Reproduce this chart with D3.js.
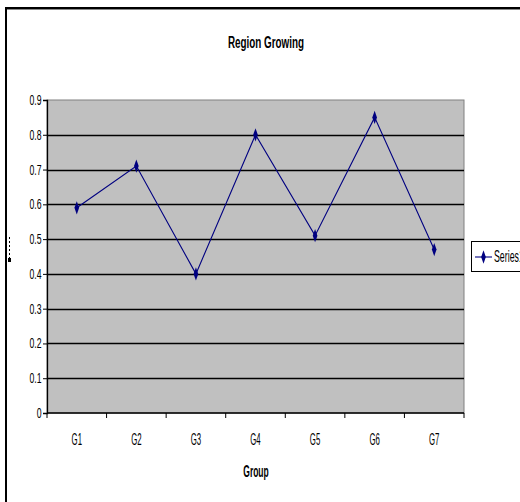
<!DOCTYPE html>
<html>
<head>
<meta charset="utf-8">
<script src="https://cdn.jsdelivr.net/npm/d3@7"></script>
<style>
  html, body { margin: 0; padding: 0; background: #fff; }
  svg { display: block; }
  text { font-family: "Liberation Sans", Arial, sans-serif; fill: #000; }
</style>
</head>
<body>
<svg id="chart" width="520" height="502"></svg>
<script>
// Series data
const categories = ["G1", "G2", "G3", "G4", "G5", "G6", "G7"];
const series1 = [0.59, 0.71, 0.40, 0.80, 0.51, 0.85, 0.47];
const yTicks = [0, 0.1, 0.2, 0.3, 0.4, 0.5, 0.6, 0.7, 0.8, 0.9];
const seriesName = "Series1";
const chartTitle = "Region Growing";
const xTitle = "Group";

const svg = d3.select("#chart");
const plot = { left: 47, right: 464, top: 100, bottom: 413 };

// Condensed text: draw at a size and squeeze horizontally
function narrowText(parent, x, y, str, size, sx, anchor, bold) {
  const g = parent.append("g").attr("transform", `translate(${x},${y}) scale(${sx},1)`);
  g.append("text")
    .attr("text-anchor", anchor || "start")
    .attr("font-size", size)
    .attr("font-weight", bold ? "bold" : "normal")
    .text(str);
  return g;
}

// Chart frame (runs off the right and bottom edges)
svg.append("rect")
  .attr("x", 6).attr("y", 8).attr("width", 530).attr("height", 510)
  .attr("fill", "none").attr("stroke", "#000").attr("stroke-width", 2);
svg.append("line")
  .attr("x1", 7).attr("x2", 520).attr("y1", 9.5).attr("y2", 9.5)
  .attr("stroke", "#888").attr("stroke-width", 1);

const x = d3.scaleBand().domain(categories).range([plot.left, plot.right]).padding(0);
const y = d3.scaleLinear().domain([0, 0.9]).range([plot.bottom, plot.top]);

// Plot background
svg.append("rect")
  .attr("x", plot.left).attr("y", plot.top)
  .attr("width", plot.right - plot.left).attr("height", plot.bottom - plot.top)
  .attr("fill", "#c0c0c0").attr("stroke", "#808080").attr("stroke-width", 1);

// Horizontal gridlines
svg.append("g").selectAll("line")
  .data(yTicks.filter(d => d > 0 && d < 0.9))
  .join("line")
  .attr("x1", plot.left).attr("x2", plot.right)
  .attr("y1", d => Math.round(y(d)) + 0.5).attr("y2", d => Math.round(y(d)) + 0.5)
  .attr("stroke", "#000").attr("stroke-width", 1.3);

// Y axis (line and ticks from d3.axisLeft, labels condensed)
const yAxis = svg.append("g")
  .attr("transform", `translate(${plot.left},0)`)
  .call(d3.axisLeft(y).tickValues(yTicks).tickFormat("").tickSize(4));
yAxis.select(".domain").attr("stroke", "#000").attr("stroke-width", 1.3);
yAxis.selectAll(".tick line").attr("stroke", "#000");
const yLabels = svg.append("g");
yTicks.forEach(d => {
  narrowText(yLabels, 41.5, y(d) + 5, d === 0 ? "0" : d3.format(".1f")(d), 14, 0.62, "end", false);
});

// X axis: ticks at category boundaries
const xAxisG = svg.append("g").attr("transform", `translate(0,${plot.bottom})`);
xAxisG.append("line")
  .attr("x1", plot.left).attr("x2", plot.right).attr("y1", 0).attr("y2", 0)
  .attr("stroke", "#000").attr("stroke-width", 1.3);
const bounds = categories.map(c => x(c)).concat([x(categories[categories.length - 1]) + x.bandwidth()]);
xAxisG.selectAll("line.tk").data(bounds).join("line")
  .attr("class", "tk")
  .attr("x1", d => d).attr("x2", d => d).attr("y1", 0).attr("y2", 5)
  .attr("stroke", "#000");
categories.forEach(c => {
  narrowText(svg, x(c) + x.bandwidth() / 2, 445, c, 17, 0.46, "middle", false);
});

// Series line and markers
const line = d3.line()
  .x((d, i) => x(categories[i]) + x.bandwidth() / 2)
  .y(d => y(d));
svg.append("path").datum(series1)
  .attr("d", line).attr("fill", "none")
  .attr("stroke", "#000080").attr("stroke-width", 1.1);
const diamond = d3.symbol().type(d3.symbolDiamond).size(30);
svg.append("g").selectAll("path").data(series1).join("path")
  .attr("d", diamond)
  .attr("transform", (d, i) => `translate(${x(categories[i]) + x.bandwidth() / 2},${y(d)}) scale(0.8,1.3)`)
  .attr("fill", "#000080");

// Titles
narrowText(svg, 266, 48, chartTitle, 17, 0.58, "middle", true);
narrowText(svg, 256, 477, xTitle, 16, 0.53, "middle", true);

// Small dashed mark beside the value axis
svg.append("line")
  .attr("x1", 9.5).attr("x2", 9.5).attr("y1", 237).attr("y2", 260)
  .attr("stroke", "#000").attr("stroke-dasharray", "2,2");
svg.append("rect").attr("x", 8).attr("y", 258).attr("width", 3).attr("height", 4).attr("fill", "#000");

// Legend (box runs past the right edge)
const lg = svg.append("g");
lg.append("rect").attr("x", 471.5).attr("y", 241.5).attr("width", 60).attr("height", 30)
  .attr("fill", "#fff").attr("stroke", "#000");
lg.append("line").attr("x1", 475).attr("x2", 492).attr("y1", 257).attr("y2", 257)
  .attr("stroke", "#000080").attr("stroke-width", 1.1);
lg.append("path").attr("d", diamond)
  .attr("transform", "translate(483.5,257) scale(0.8,1.3)").attr("fill", "#000080");
narrowText(lg, 494, 262, seriesName, 16, 0.55, "start", false);
</script>
</body>
</html>
